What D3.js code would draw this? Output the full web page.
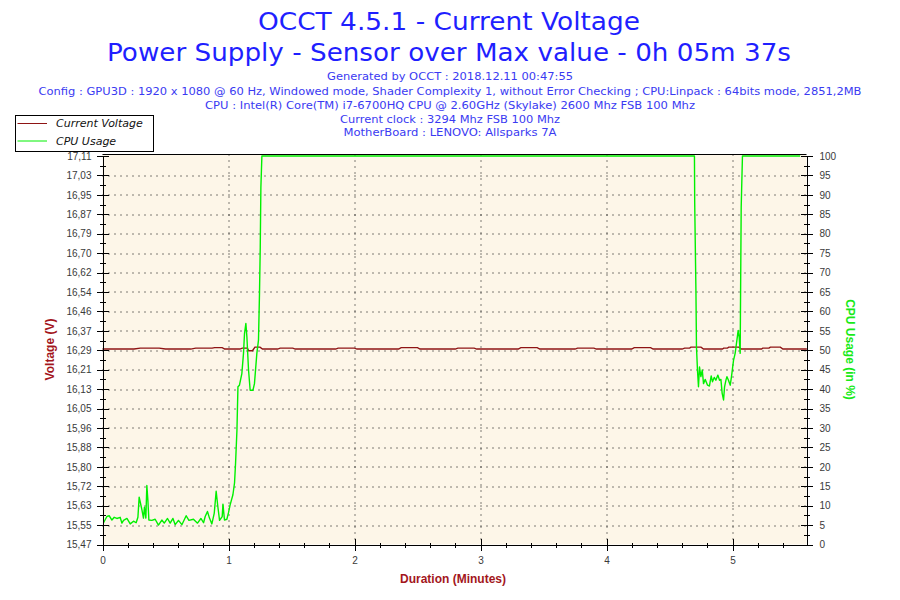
<!DOCTYPE html>
<html>
<head>
<meta charset="utf-8">
<script src="https://cdn.jsdelivr.net/npm/d3@7"></script>
<style>
  body { margin: 0; background: #fff; }
  svg { display: block; }
</style>
</head>
<body>
<svg></svg>
<script>
// header lines
const titleLines = ["OCCT 4.5.1 - Current Voltage", "Power Supply - Sensor over Max value - 0h 05m 37s"];
const infoLines = [
  "Generated by OCCT : 2018.12.11 00:47:55",
  "Config : GPU3D : 1920 x 1080 @ 60 Hz, Windowed mode, Shader Complexity 1, without Error Checking ; CPU:Linpack : 64bits mode, 2851,2MB",
  "CPU : Intel(R) Core(TM) i7-6700HQ CPU @ 2.60GHz (Skylake) 2600 Mhz FSB 100 Mhz",
  "Current clock : 3294 Mhz FSB 100 Mhz",
  "MotherBoard : LENOVO: Allsparks 7A"
];
const seriesNames = ["Current Voltage", "CPU Usage"];

// axis labels
const voltLabels = ["15,47", "15,55", "15,63", "15,72", "15,80", "15,88", "15,96", "16,05", "16,13", "16,21",
  "16,29", "16,37", "16,46", "16,54", "16,62", "16,70", "16,79", "16,87", "16,95", "17,03", "17,11"];
const cpuTicks = [0, 5, 10, 15, 20, 25, 30, 35, 40, 45, 50, 55, 60, 65, 70, 75, 80, 85, 90, 95, 100];
const minuteTicks = [0, 1, 2, 3, 4, 5];

// voltage (V) over time (minutes)
const voltTime = [0.00, 0.25, 0.30, 0.45, 0.50, 0.70, 0.74, 0.87, 0.89, 0.95, 0.97, 1.09, 1.11, 1.15, 1.16, 1.19,
  1.21, 1.25, 1.27, 1.39, 1.41, 1.51, 1.53, 1.85, 1.87, 2.00, 2.02, 2.35, 2.37, 2.50, 2.52, 2.80, 2.82, 2.95,
  2.97, 3.30, 3.32, 3.45, 3.47, 3.75, 3.77, 3.90, 3.92, 4.20, 4.22, 4.35, 4.37, 4.60, 4.62, 4.66, 4.67, 4.75,
  4.77, 4.92, 4.93, 4.96, 4.97, 5.05, 5.07, 5.23, 5.24, 5.29, 5.30, 5.38, 5.40, 5.59];
const voltValue = [16.295, 16.295, 16.299, 16.299, 16.295, 16.295, 16.299, 16.299, 16.301, 16.301, 16.295, 16.295,
  16.299, 16.299, 16.288, 16.288, 16.303, 16.303, 16.295, 16.295, 16.299, 16.299, 16.295, 16.295, 16.299, 16.299,
  16.295, 16.295, 16.301, 16.301, 16.295, 16.295, 16.299, 16.299, 16.295, 16.295, 16.301, 16.301, 16.295, 16.295,
  16.299, 16.299, 16.295, 16.295, 16.301, 16.301, 16.295, 16.295, 16.299, 16.299, 16.303, 16.303, 16.295, 16.295,
  16.299, 16.299, 16.303, 16.303, 16.295, 16.295, 16.299, 16.299, 16.303, 16.303, 16.295, 16.295];

// cpu usage (%) over time (minutes)
const cpuTime = [0.008, 0.035, 0.053, 0.075, 0.093, 0.114, 0.140, 0.154, 0.167, 0.194, 0.220, 0.246, 0.267, 0.281,
  0.291, 0.299, 0.313, 0.325, 0.333, 0.344, 0.352, 0.360, 0.368, 0.392, 0.418, 0.444, 0.471, 0.490, 0.516, 0.537,
  0.559, 0.577, 0.603, 0.630, 0.664, 0.686, 0.722, 0.754, 0.781, 0.802, 0.815, 0.833, 0.849, 0.868, 0.887, 0.902,
  0.916, 0.929, 0.950, 0.956, 0.968, 0.987, 1.000, 1.013, 1.035, 1.048, 1.056, 1.067, 1.075, 1.087, 1.106, 1.119,
  1.127, 1.138, 1.146, 1.159, 1.172, 1.194, 1.206, 1.225, 1.238, 1.246, 1.252, 1.257, 1.265, 4.698, 4.700, 4.710,
  4.714, 4.722, 4.730, 4.738, 4.749, 4.760, 4.770, 4.783, 4.802, 4.817, 4.831, 4.841, 4.855, 4.868, 4.884, 4.897,
  4.908, 4.918, 4.929, 4.937, 4.948, 4.956, 4.968, 4.982, 4.992, 5.008, 5.021, 5.035, 5.045, 5.053, 5.061, 5.063,
  5.069, 5.079, 5.537];
const cpuValue = [5.6, 7.2, 7.4, 6.3, 7.0, 6.7, 7.0, 5.5, 6.2, 6.7, 5.3, 6.0, 5.6, 7.0,
  12.2, 11.0, 8.9, 6.8, 9.6, 6.8, 15.2, 11.5, 6.3, 6.2, 6.5, 5.0, 6.3, 5.5, 6.7, 5.5,
  6.7, 5.1, 6.2, 5.1, 7.4, 6.2, 6.5, 5.5, 6.7, 5.6, 7.2, 8.5, 6.8, 5.3, 8.1, 13.7,
  9.6, 6.2, 7.2, 10.4, 6.3, 6.5, 8.2, 10.2, 12.8, 15.9, 20.9, 29.4, 40.6, 41.0, 44.0, 49.2,
  54.3, 56.9, 53.4, 44.9, 39.7, 39.7, 41.4, 49.2, 52.6, 64.6, 76.5, 91.9, 100, 100, 88, 64.6,
  50.9, 44.9, 40.6, 45.7, 43.2, 44.9, 41.4, 42.5, 41.0, 40.8, 43.4, 41.9, 43.0, 42.3, 43.6, 42.3,
  42.5, 38.9, 37.2, 40.6, 42.3, 43.2, 42.3, 41.0, 43.2, 47.4, 49.2, 52.6, 55.1, 53.4, 49.2, 59.4,
  86.8, 100, 100];

const margin = { top: 154.5, right: 93.5, bottom: 55.5, left: 102.5 };
const width = 900 - margin.left - margin.right;
const height = 600 - margin.top - margin.bottom;

const root = d3.select("svg").attr("width", 900).attr("height", 600);

const titleColor = "#1f1fff";
const infoColor = "#3a3af2";
const voltColor = "#8e1414";
const cpuColor = "#00f000";

// titles
const titleSpans = [382, 684];
root.selectAll(".title").data(titleLines).join("text")
  .attr("class", "title")
  .attr("x", 449)
  .attr("y", (d, i) => 30 + i * 31)
  .attr("text-anchor", "middle")
  .attr("font-family", "DejaVu Sans, Verdana, sans-serif")
  .attr("font-size", 25)
  .attr("fill", titleColor)
  .attr("textLength", (d, i) => titleSpans[i])
  .attr("lengthAdjust", "spacingAndGlyphs")
  .text(d => d);

const infoSpans = [246, 823, 490, 220, 213];
const infoY = [80, 94.5, 108.5, 122.5, 136];
root.selectAll(".info").data(infoLines).join("text")
  .attr("class", "info")
  .attr("x", 450)
  .attr("y", (d, i) => infoY[i])
  .attr("text-anchor", "middle")
  .attr("font-family", "DejaVu Sans, Verdana, sans-serif")
  .attr("font-size", 11)
  .attr("fill", infoColor)
  .attr("textLength", (d, i) => infoSpans[i])
  .attr("lengthAdjust", "spacingAndGlyphs")
  .text(d => d);

const svg = root.append("g").attr("transform", `translate(${margin.left},${margin.top})`);

const x = d3.scaleLinear().domain([0, width / 126]).range([0, width]);
const yCpu = d3.scaleLinear().domain([0, 100]).range([height, 1.5]);
const yIdx = d3.scaleLinear().domain([0, voltLabels.length - 1]).range([height, 1.5]);
const yVolt = d3.scaleLinear().domain([15.47, 17.11]).range([height, 1.5]);

svg.append("rect")
  .attr("width", width)
  .attr("height", height)
  .attr("fill", "#fdf6e8");

// dotted grid
svg.append("g").selectAll("line").data(d3.range(1, voltLabels.length - 1)).join("line")
  .attr("x1", 0).attr("x2", width)
  .attr("y1", d => Math.round(yIdx(d)) + 0.5).attr("y2", d => Math.round(yIdx(d)) + 0.5)
  .attr("stroke", "#000").attr("stroke-dasharray", "1,5");
svg.append("g").selectAll("line").data(minuteTicks.slice(1)).join("line")
  .attr("x1", d => Math.round(x(d)) + 0.5).attr("x2", d => Math.round(x(d)) + 0.5)
  .attr("y1", 0).attr("y2", height)
  .attr("stroke", "#000").attr("stroke-dasharray", "1,5");

// series
const voltData = voltTime.map((t, i) => ({ t, v: voltValue[i] }));
const cpuData = cpuTime.map((t, i) => ({ t, v: cpuValue[i] }));

svg.append("path")
  .datum(voltData)
  .attr("fill", "none")
  .attr("stroke", voltColor)
  .attr("stroke-width", 1.4)
  .attr("d", d3.line().x(d => x(d.t)).y(d => yVolt(d.v)));

svg.append("path")
  .datum(cpuData)
  .attr("fill", "none")
  .attr("stroke", cpuColor)
  .attr("stroke-width", 1.4)
  .attr("stroke-linejoin", "round")
  .attr("d", d3.line().x(d => x(d.t)).y(d => yCpu(d.v)));

// frame top
svg.append("line")
  .attr("x1", 0).attr("x2", width).attr("y1", 0).attr("y2", 0)
  .attr("stroke", "#000");

function styleAxis(g, size) {
  g.attr("font-family", "Liberation Sans, Arial, sans-serif").attr("font-size", size);
  g.selectAll("text").attr("fill", "#3a3a3a");
  g.selectAll("path, line").attr("stroke", "#000").attr("shape-rendering", "crispEdges");
}

// left axis
svg.append("g")
  .call(d3.axisLeft(yIdx).tickValues(d3.range(0.5, voltLabels.length - 1, 1)).tickSize(0).tickFormat(""))
  .call(g => g.selectAll(".tick line").attr("x1", -3).attr("x2", 3))
  .call(g => styleAxis(g, 10));
svg.append("g")
  .call(d3.axisLeft(yIdx).tickValues(d3.range(voltLabels.length)).tickSizeInner(6).tickSizeOuter(0)
    .tickPadding(5).tickFormat(i => voltLabels[i]))
  .call(g => g.selectAll(".tick line").attr("x1", -6).attr("x2", 6))
  .call(g => styleAxis(g, 10));

// right axis
svg.append("g")
  .attr("transform", `translate(${width},0)`)
  .call(d3.axisRight(yCpu).tickValues(d3.range(2.5, 100, 5)).tickSize(0).tickFormat(""))
  .call(g => g.selectAll(".tick line").attr("x1", -3).attr("x2", 3))
  .call(g => styleAxis(g, 10));
svg.append("g")
  .attr("transform", `translate(${width},0)`)
  .call(d3.axisRight(yCpu).tickValues(cpuTicks).tickSizeInner(6).tickSizeOuter(0).tickPadding(7))
  .call(g => g.selectAll(".tick line").attr("x1", -6).attr("x2", 6))
  .call(g => styleAxis(g, 10));

// bottom axis
svg.append("g")
  .attr("transform", `translate(0,${height})`)
  .call(d3.axisBottom(x).tickValues(d3.range(0.2, x.domain()[1], 0.2)).tickSize(0).tickFormat(""))
  .call(g => g.selectAll(".tick line").attr("y1", -2).attr("y2", 3))
  .call(g => styleAxis(g, 10));
svg.append("g")
  .attr("transform", `translate(0,${height})`)
  .call(d3.axisBottom(x).tickValues(minuteTicks).tickSizeInner(6).tickSizeOuter(0).tickPadding(6)
    .tickFormat(d3.format("d")))
  .call(g => g.selectAll(".tick line").attr("y1", -6).attr("y2", 6))
  .call(g => styleAxis(g, 10));

// axis titles
root.append("text")
  .attr("transform", `translate(54,${margin.top + height / 2}) rotate(-90)`)
  .attr("text-anchor", "middle")
  .attr("font-family", "Liberation Sans, Arial, sans-serif")
  .attr("font-weight", "bold")
  .attr("font-size", 12)
  .attr("fill", "#a3161c")
  .text("Voltage (V)");

root.append("text")
  .attr("transform", `translate(846,${margin.top + height / 2}) rotate(90)`)
  .attr("text-anchor", "middle")
  .attr("font-family", "Liberation Sans, Arial, sans-serif")
  .attr("font-weight", "bold")
  .attr("font-size", 12)
  .attr("fill", "#18ea18")
  .text("CPU Usage (in %)");

root.append("text")
  .attr("x", 453)
  .attr("y", 583)
  .attr("text-anchor", "middle")
  .attr("font-family", "Liberation Sans, Arial, sans-serif")
  .attr("font-weight", "bold")
  .attr("font-size", 12)
  .attr("fill", "#a3161c")
  .text("Duration (Minutes)");

// legend
const legend = root.append("g");
legend.append("rect")
  .attr("x", 15.5).attr("y", 115.5)
  .attr("width", 138).attr("height", 36)
  .attr("fill", "#fff").attr("stroke", "#000");
const legendColors = [voltColor, cpuColor];
legend.selectAll(".lg-line").data(seriesNames).join("line")
  .attr("class", "lg-line")
  .attr("x1", 17.5).attr("x2", 47)
  .attr("y1", (d, i) => 123.5 + i * 17.5).attr("y2", (d, i) => 123.5 + i * 17.5)
  .attr("stroke", (d, i) => legendColors[i]);
legend.selectAll(".lg-text").data(seriesNames).join("text")
  .attr("class", "lg-text")
  .attr("x", 56)
  .attr("y", (d, i) => 127 + i * 17.5)
  .attr("font-family", "DejaVu Sans, Verdana, sans-serif")
  .attr("font-style", "italic")
  .attr("font-size", 11)
  .attr("fill", "#111")
  .text(d => d);
</script>
</body>
</html>
